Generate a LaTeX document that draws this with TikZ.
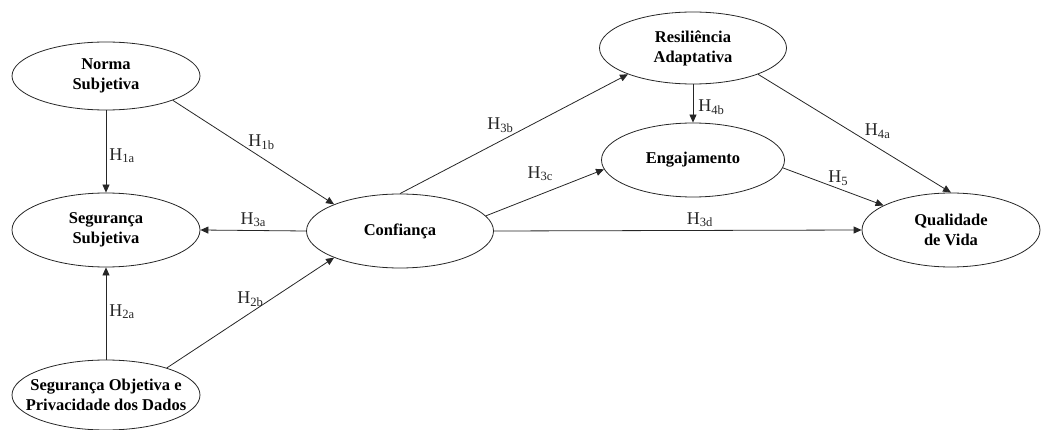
\documentclass[tikz,border=0pt]{standalone}
\usepackage{fontspec}
\setmainfont{Liberation Serif}
\usepackage{tikz}
\usetikzlibrary{positioning,arrows.meta,shapes.geometric}
\definecolor{pathline}{HTML}{262626}

\begin{document}
\begin{tikzpicture}[
  x=1pt,y=-1pt,
  construct/.style={draw=pathline,ellipse,line width=0.8pt,inner sep=0pt,minimum width=188pt,minimum height=74pt,align=center,font=\fontsize{16.5}{20}\selectfont\bfseries},
  arr/.style={-{Triangle[length=8pt,width=7pt]},pathline,line width=0.8pt},
  hyp/.style={font=\fontsize{18}{20}\selectfont,inner sep=1pt}
]
\useasboundingbox (0,0) rectangle (1043,430);

\node[construct,minimum height=68pt] (norma) at (106,76) {Norma\\Subjetiva};
\node[construct] (segsubj) at (106,230) {Segurança\\Subjetiva};
\node[construct,minimum height=70pt,inner xsep=-16pt] (segobj) at (106,395) {Segurança Objetiva e\\Privacidade dos Dados};
\node[construct,minimum width=187pt] (conf) at (400,231) {Confiança};
\node[construct,minimum width=187pt,minimum height=72pt] (resil) at (693,48) {Resiliência\\Adaptativa};
\node[construct,minimum width=183pt] (engaj) at (693,160) {Engajamento};
\node[construct,minimum width=178pt] (qual) at (951,230) {Qualidade\\de Vida};

\draw[arr] (norma) -- node[hyp,pos=.55,right=2pt] {H\textsubscript{1a}} (segsubj);
\draw[arr] (norma.-20) -- node[hyp,pos=.55,above=7pt] {H\textsubscript{1b}} (conf.158);
\draw[arr] (conf.west) -- node[hyp,pos=.5,above=2pt] {H\textsubscript{3a}} (segsubj.east);
\draw[arr] (segobj) -- node[hyp,pos=.52,right=2pt] {H\textsubscript{2a}} (segsubj);
\draw[arr] (segobj.24) -- node[hyp,pos=.5,above=5pt] {H\textsubscript{2b}} (conf.-158);
\draw[arr] (conf.north) -- node[hyp,pos=.44,above=7pt] {H\textsubscript{3b}} (resil.-158);
\draw[arr] (conf.10) -- node[hyp,pos=.46,above=12pt] {H\textsubscript{3c}} (engaj.186);
\draw[arr] (conf.east) -- node[hyp,pos=.56,above=2pt] {H\textsubscript{3d}} (qual.west);
\draw[arr] (resil) -- node[hyp,pos=.6,right=4pt] {H\textsubscript{4b}} (engaj);
\draw[arr] (resil.-22) -- node[hyp,pos=.62,above=8pt] {H\textsubscript{4a}} (qual.north);
\draw[arr] (engaj.-5) -- node[hyp,pos=.55,above=2pt] {H\textsubscript{5}} (qual.160);
\end{tikzpicture}
\end{document}
